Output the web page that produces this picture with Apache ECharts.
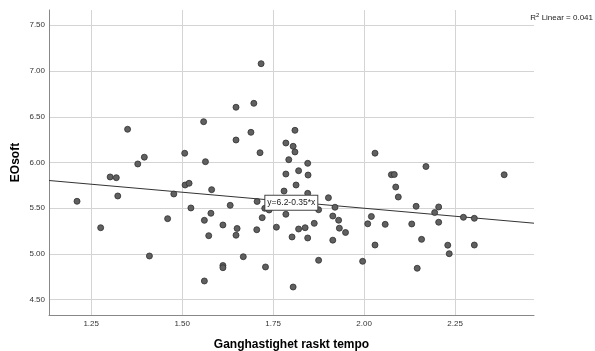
<!DOCTYPE html>
<html>
<head>
<meta charset="utf-8">
<script src="https://cdn.jsdelivr.net/npm/echarts@6/dist/echarts.min.js"></script>
<style>
html,body{margin:0;padding:0;background:#fff;}
#chart{width:595px;height:351px;}
</style>
</head>
<body>
<div id="chart"></div>
<script>
// Ganghastighet raskt tempo (x) values
var xValues = [1.211,1.276,1.302,1.319,1.323,1.350,1.378,1.396,1.410,1.460,
1.477,1.507,1.508,1.519,1.524,1.559,1.564,1.561,1.561,1.573,
1.579,1.581,1.612,1.612,1.612,1.632,1.648,1.648,1.651,1.648,
1.668,1.689,1.697,1.705,1.706,1.714,1.717,1.720,1.727,1.739,
1.729,1.759,1.780,1.785,1.785,1.785,1.793,1.802,1.805,1.805,
1.810,1.810,1.813,1.820,1.820,1.838,1.845,1.845,1.846,1.845,
1.863,1.875,1.875,1.902,1.914,1.914,1.920,1.930,1.932,1.949,
1.996,2.010,2.020,2.030,2.030,2.058,2.075,2.083,2.087,2.094,
2.131,2.143,2.146,2.158,2.170,2.194,2.205,2.205,2.230,2.234,
2.273,2.303,2.303,2.385];
// EOsoft (y) values
var yValues = [5.576,5.287,5.842,5.834,5.634,6.363,5.984,6.058,4.978,5.386,
5.656,6.101,5.754,5.773,5.503,6.446,6.009,5.368,4.705,5.200,
5.445,5.703,5.317,4.874,4.850,5.532,6.604,6.246,5.279,5.205,
4.970,6.330,6.647,5.265,5.574,6.107,7.080,5.397,5.499,5.481,
4.858,5.293,5.688,6.213,5.874,5.434,6.031,5.186,6.177,4.639,
6.352,6.115,5.754,5.910,5.273,5.287,5.991,5.663,5.863,5.175,
5.335,5.484,4.931,5.615,5.415,5.151,5.511,5.369,5.282,5.235,
4.920,5.330,5.410,6.102,5.098,5.324,5.867,5.869,5.732,5.623,
5.328,5.521,4.844,5.160,5.956,5.453,5.514,5.347,5.096,5.003,
5.401,5.390,5.098,5.866];
var xTicks = [1.25, 1.50, 1.75, 2.00, 2.25];
var yTicks = [4.50, 5.00, 5.50, 6.00, 6.50, 7.00, 7.50];
var fitIntercept = 6.2;
var fitSlope = -0.35;
var fitLabelX = 1.8;
var xMin = 1.134, xMax = 2.467, yMin = 4.333, yMax = 7.667;

var points = xValues.map(function(x, i){ return [x, yValues[i]]; });
var fitLine = [[xMin, fitIntercept + fitSlope * xMin], [xMax, fitIntercept + fitSlope * xMax]];

var chart = echarts.init(document.getElementById('chart'), null, {renderer: 'canvas'});
var font = 'Arial, "Liberation Sans", sans-serif';
chart.setOption({
  animation: false,
  backgroundColor: '#ffffff',
  textStyle: {fontFamily: font},
  grid: {left: 49, right: 61, top: 10, bottom: 36, containLabel: false, outerBoundsMode: 'none'},
  xAxis: {
    type: 'value', min: xMin, max: xMax,
    name: 'Ganghastighet raskt tempo',
    nameLocation: 'middle', nameGap: 24,
    nameTextStyle: {fontSize: 12, fontWeight: 'bold', color: '#000', fontFamily: font},
    axisLine: {show: true, lineStyle: {color: '#888', width: 1}},
    axisTick: {show: false, customValues: xTicks},
    axisLabel: {customValues: xTicks, color: '#333', fontSize: 8, margin: 5,
      formatter: function(v){ return v.toFixed(2); }},
    splitLine: {show: true, lineStyle: {color: '#d4d4d4', width: 1}}
  },
  yAxis: {
    type: 'value', min: yMin, max: yMax,
    name: 'EOsoft',
    nameLocation: 'middle', nameGap: 27, nameMoveOverlap: false,
    nameTextStyle: {fontSize: 12, fontWeight: 'bold', color: '#000', fontFamily: font},
    axisLine: {show: true, lineStyle: {color: '#888', width: 1}},
    axisTick: {show: false, customValues: yTicks},
    axisLabel: {customValues: yTicks, color: '#333', fontSize: 8, margin: 4,
      formatter: function(v){ return v.toFixed(2); }},
    splitLine: {show: true, lineStyle: {color: '#d4d4d4', width: 1}}
  },
  graphic: [{
    type: 'text', right: 2, top: 12,
    style: {
      text: '{a|R}{s|2}{a| Linear = 0.041}',
      rich: {
        a: {fontSize: 8, fill: '#222', fontFamily: font},
        s: {fontSize: 6, fill: '#222', fontFamily: font, verticalAlign: 'top', padding: [0,0,5,0]}
      }
    }
  }],
  series: [{
    type: 'line',
    data: fitLine,
    showSymbol: false,
    lineStyle: {color: '#333', width: 1},
    z: 3,
    markPoint: {
      symbol: 'rect', symbolSize: 0,
      data: [{coord: [fitLabelX, fitIntercept + fitSlope * fitLabelX], value: ''}],
      label: {
        show: true, position: 'inside', offset: [0, 1],
        formatter: 'y=6.2-0.35*x',
        fontSize: 8.5, color: '#222', fontFamily: font,
        backgroundColor: '#fff', borderColor: '#444', borderWidth: 1,
        padding: [3, 2, 2, 2]
      }
    }
  }, {
    type: 'scatter',
    data: points,
    symbolSize: 6,
    itemStyle: {color: '#606060', borderColor: '#303030', borderWidth: 0.8, opacity: 1},
    z: 4
  }]
});
</script>
</body>
</html>
